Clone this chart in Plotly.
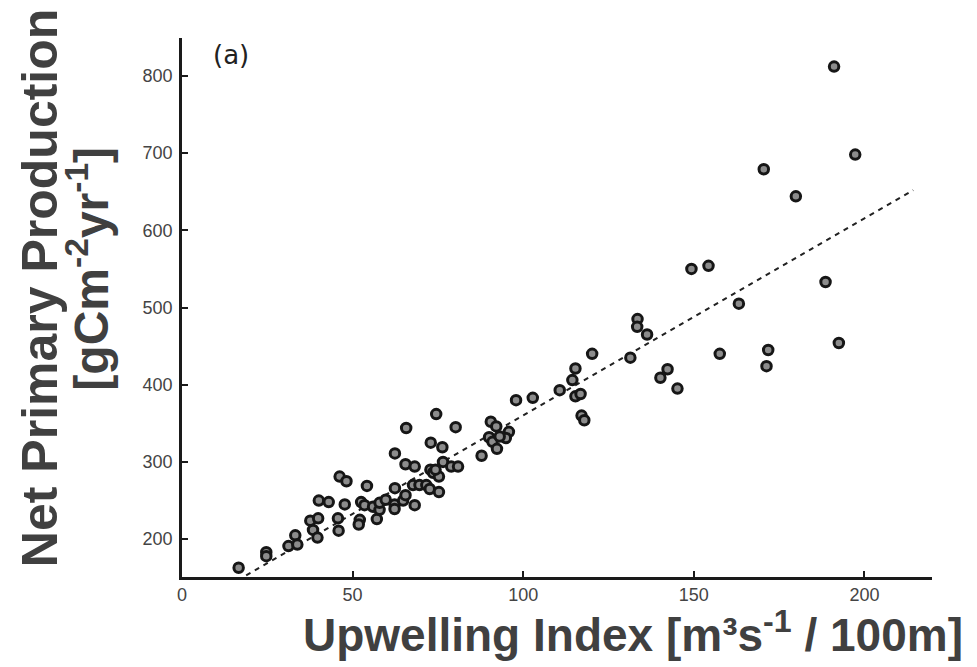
import plotly.graph_objects as go

upwelling = [191.1, 197.3, 170.5, 179.9, 149.3, 154.3, 188.6, 163.2, 133.5, 133.4,
             136.3, 120.2, 131.4, 157.6, 142.3, 140.2, 145.2, 171.8, 171.3, 192.5,
             115.3, 114.4, 110.7, 115.3, 116.8, 117.1, 117.9, 97.9, 102.8, 90.5,
             92.1, 95.8, 90.0, 91.0, 92.3, 94.9, 93.1, 87.8,
             16.6, 24.7, 24.7, 31.2, 33.2, 33.8, 37.6, 38.4, 39.7, 39.9,
             40.1, 43.0, 45.7, 45.9, 46.2, 48.2, 47.7, 52.1, 51.8, 52.5,
             53.5, 54.2, 56.0, 57.1, 57.9, 57.9, 59.7, 62.3, 62.3, 62.4,
             62.4, 64.8, 65.5, 65.7, 65.5, 68.2, 68.2, 67.7, 69.6, 71.6,
             72.8, 73.6, 72.9, 72.6, 75.3, 74.5, 76.3, 75.3, 76.5, 78.9,
             80.9, 80.2, 74.3]
npp = [812, 698, 679, 644, 550, 554, 533, 505, 485, 475,
       465, 440, 435, 440, 420, 409, 395, 445, 424, 454,
       421, 406, 393, 385, 388, 360, 354, 380, 383, 352,
       346, 339, 332, 326, 317, 331, 333, 308,
       163, 183, 178, 191, 205, 193, 224, 212, 202, 227,
       250, 248, 227, 211, 281, 275, 245, 225, 219, 248,
       244, 269, 242, 226, 238, 247, 251, 245, 239, 266,
       311, 250, 257, 344, 297, 294, 244, 270, 270, 270,
       290, 286, 325, 265, 261, 362, 319, 281, 300, 294,
       294, 345, 290]

fit_x = [18.8, 214.3]
fit_y = [153, 652]

x_ticks = [0, 50, 100, 150, 200]
y_ticks = [200, 300, 400, 500, 600, 700, 800]

fig = go.Figure()
fig.add_trace(go.Scatter(
    x=fit_x, y=fit_y, mode="lines",
    line=dict(color="#222222", width=2, dash="5px,5px"),
    hoverinfo="skip", showlegend=False))
fig.add_trace(go.Scatter(
    x=upwelling, y=npp, mode="markers",
    marker=dict(size=9.5, color="#8c8c8c", line=dict(color="#161616", width=3)),
    showlegend=False))

axis_common = dict(
    showline=True, linecolor="#1a1a1a", linewidth=2.5,
    ticks="inside", ticklen=6, tickwidth=2, tickcolor="#1a1a1a",
    showgrid=False, zeroline=False,
    tickfont=dict(family="Liberation Sans, Arial, sans-serif", size=18, color="#444444"),
)

fig.update_layout(
    width=977, height=667,
    margin=dict(l=182, r=45, t=38, b=90),
    paper_bgcolor="white", plot_bgcolor="white",
    xaxis=dict(range=[0, 219.8], tickvals=x_ticks, **axis_common),
    yaxis=dict(range=[151, 849], tickvals=y_ticks, ticklabelstandoff=3, **axis_common),
    annotations=[
        dict(text="Upwelling Index [m³s<sup>-1</sup> / 100m]", xref="paper", yref="paper",
             x=0.601, y=-0.102, xanchor="center", yanchor="middle", showarrow=False,
             font=dict(family="Liberation Sans, Arial, sans-serif", size=46, color="#404040", weight="bold")),
        dict(text="Net Primary Production", xref="paper", yref="paper",
             x=-0.19, y=0.535, xanchor="center", yanchor="middle", showarrow=False,
             textangle=-90,
             font=dict(family="Liberation Sans, Arial, sans-serif", size=50, color="#404040", weight="bold")),
        dict(text="[gCm<sup>-2</sup>yr<sup>-1</sup>]", xref="paper", yref="paper",
             x=-0.1247, y=0.573, xanchor="center", yanchor="middle", showarrow=False,
             textangle=-90,
             font=dict(family="Liberation Sans, Arial, sans-serif", size=48, color="#404040", weight="bold")),
        dict(text="(a)", xref="paper", yref="paper",
             x=0.065, y=0.968, xanchor="center", yanchor="middle", showarrow=False,
             font=dict(family="DejaVu Sans, sans-serif", size=26, color="#222222")),
    ],
)

fig.write_html("out.html")
